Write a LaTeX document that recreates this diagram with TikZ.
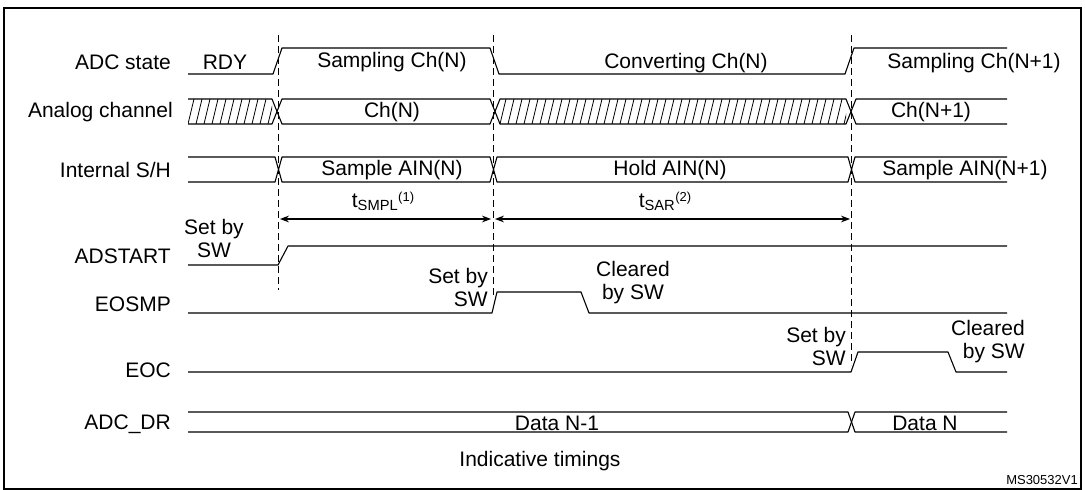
\documentclass[tikz,border=0pt]{standalone}
\usepackage{fontspec}
\setmainfont{Liberation Sans}
\usetikzlibrary{arrows.meta}
\begin{document}
\begin{tikzpicture}[x=1pt,y=-1pt,
  txt/.style={font=\fontsize{21}{23}\selectfont, inner sep=0pt, align=center},
  lbl/.style={txt, anchor=east},
  sig/.style={line width=1.1pt, line join=round},
  dsh/.style={dashed, dash pattern=on 7pt off 4pt, line width=0.8pt},
  meas/.style={line width=1.1pt, {Stealth[length=9pt]}-{Stealth[length=9pt]}}]
\useasboundingbox (0,0) rectangle (1085,490);
\draw[line width=1.2pt] (4,8) rectangle (1081,489);
% dashed lines
\draw[dsh] (278,35) -- (278,290);
\draw[dsh] (493,35) -- (493,298);
\draw[dsh] (851,35) -- (851,365);
% labels
\node[lbl] (l1) at (171,62) {ADC state};
\node[lbl] (l2) at (173,112) {Analog channel};
\node[lbl] (l3) at (171,170) {Internal S/H};
\node[lbl] (l4) at (171,256) {ADSTART};
\node[lbl] (l5) at (171,304) {EOSMP};
\node[lbl] (l6) at (171,370) {EOC};
\node[lbl] (l7) at (171,424) {ADC\_DR};
% ADC state
\draw[sig] (188,74) -- (273,74) -- (282,48) -- (490,48) -- (499,74) -- (845,74) -- (854,48) -- (1007,48);
\node[txt] (rdy) at (225,62) {RDY};
\node[txt] (s1) at (392,62) {Sampling Ch(N)};
\node[txt] (c1) at (686,63) {Converting Ch(N)};
\node[txt] (s2) at (974,63) {Sampling Ch(N+1)};
% Analog channel
\begin{scope}
\clip (188,99) rectangle (272,124);
\foreach \x in {180,188,...,280} \draw[line width=0.8pt] (\x,124) -- (\x+6,99);
\end{scope}
\begin{scope}
\clip (500,99) rectangle (846,124);
\foreach \x in {492,500,...,850} \draw[line width=0.8pt] (\x,124) -- (\x+6,99);
\end{scope}
\draw[sig] (188,99) -- (272,99) -- (282,124) -- (490,124) -- (500,99) -- (846,99) -- (856,124) -- (1007,124);
\draw[sig] (188,124) -- (272,124) -- (282,99) -- (490,99) -- (500,124) -- (846,124) -- (856,99) -- (1007,99);
\node[txt] (a1) at (392,112) {Ch(N)};
\node[txt] (a2) at (931,112) {Ch(N+1)};
% Internal S/H
\draw[sig] (188,157) -- (275,157) -- (282,182) -- (490,182) -- (497,157) -- (848,157) -- (855,182) -- (1007,182);
\draw[sig] (188,182) -- (275,182) -- (282,157) -- (490,157) -- (497,182) -- (848,182) -- (855,157) -- (1007,157);
\node[txt] (h1) at (392,170) {Sample AIN(N)};
\node[txt] (h2) at (670,170) {Hold AIN(N)};
\node[txt] (h3) at (965,170) {Sample AIN(N+1)};
% measures
\coordinate (m1) at (280,219);
\coordinate (m2) at (491,219);
\coordinate (m3) at (495,219);
\coordinate (m4) at (850,219);
\draw[meas] (m1) -- (m2);
\draw[meas] (m3) -- (m4);
\node[txt] (ts) at (383,201) {t\textsubscript{SMPL}\raisebox{6pt}{\fontsize{13}{14}\selectfont(1)}};
\node[txt] (tr) at (665,201) {t\textsubscript{SAR}\raisebox{6pt}{\fontsize{13}{14}\selectfont(2)}};
% ADSTART
\draw[sig] (188,265) -- (278,265) -- (288,246) -- (1007,246);
\node[txt] (n1) at (214,238) {Set by\\SW};
% EOSMP
\draw[sig] (188,313) -- (492,313) -- (497,292) -- (581,292) -- (589,313) -- (1007,313);
\node[txt, anchor=east, align=right] (n2) at (488,287) {Set by\\SW};
\node[txt, anchor=west, align=center] (n3) at (596,283) {Cleared\\by SW};
% EOC
\draw[sig] (188,372) -- (851,372) -- (858,352) -- (948,352) -- (956,372) -- (1007,372);
\node[txt, anchor=east, align=right] (n4) at (846,346) {Set by\\SW};
\node[txt, anchor=west, align=right] (n5) at (951,342) {Cleared\\by SW};
% ADC_DR
\draw[sig] (188,412) -- (848,412) -- (855,432) -- (1007,432);
\draw[sig] (188,432) -- (848,432) -- (855,412) -- (1007,412);
\node[txt] (d1) at (557,423) {Data N-1};
\node[txt] (d2) at (925,423) {Data N};
\node[txt] (ind) at (540,461) {Indicative timings};
\node[txt, anchor=east, font=\fontsize{13}{14}\selectfont] (ms) at (1078,480) {MS30532V1};
\end{tikzpicture}
\end{document}
